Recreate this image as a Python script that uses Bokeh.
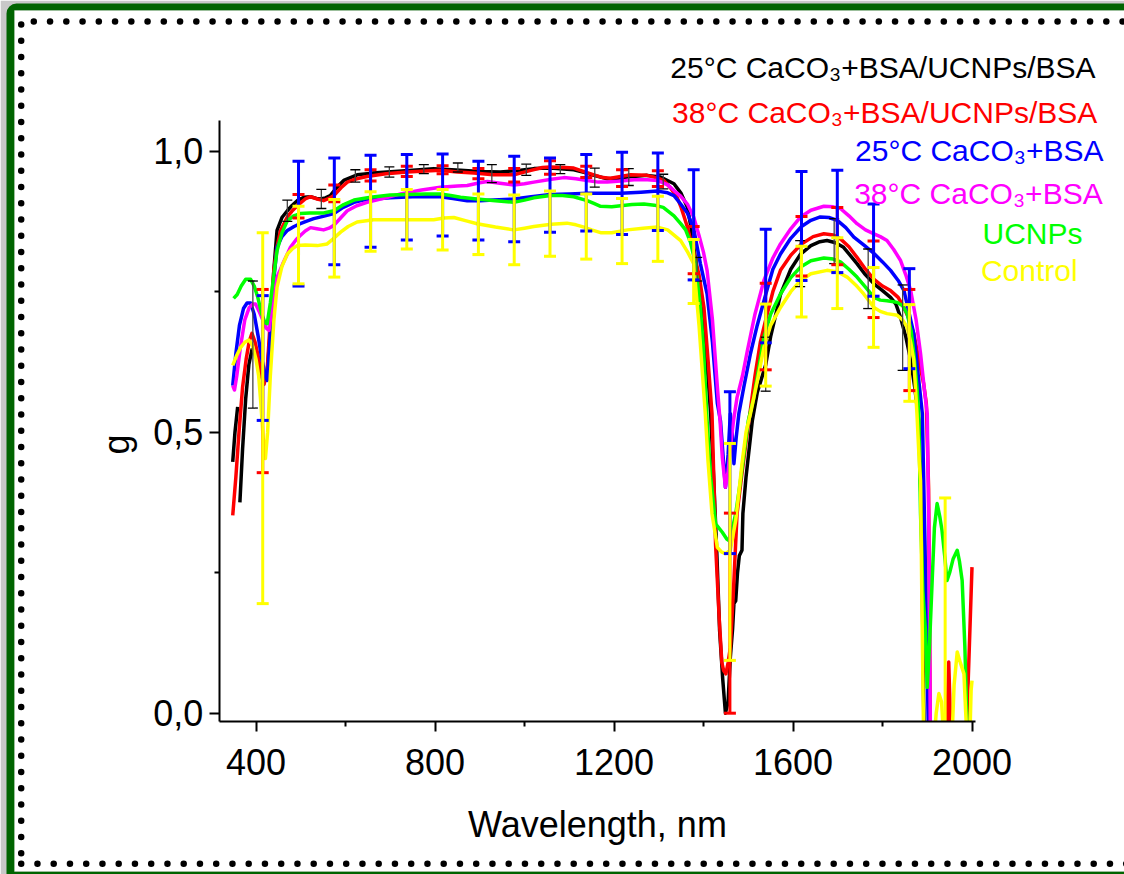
import numpy as np
from bokeh.plotting import figure
from bokeh.models import Range1d, FixedTicker, CustomJSTickFormatter, Label, BoxAnnotation
from bokeh.embed import file_html
from bokeh.resources import INLINE

nan = float("nan")

# ---------------- data (wavelength nm, g) ----------------
# points below the x axis (g < -0.015) are hidden, as in the original plot
black_pts = [(348, 0.447), (353, 0.50), (359, 0.545), (nan, nan), (364, 0.375), (370, 0.47), (377, 0.56),
             (384, 0.62), (391, 0.647), (398, 0.64), (405, 0.625), (412, 0.61), (419, 0.60), (425, 0.607),
             (432, 0.68), (440, 0.79), (447, 0.859), (458, 0.882), (470, 0.894), (480, 0.903), (492, 0.912),
             (507, 0.918), (522, 0.919), (535, 0.916), (544, 0.915), (555, 0.917), (566, 0.921), (580, 0.935),
             (596, 0.948), (626, 0.958), (660, 0.961), (693, 0.963), (750, 0.966), (797, 0.969), (857, 0.966),
             (900, 0.964), (946, 0.963), (991, 0.966), (1021, 0.969), (1058, 0.970), (1110, 0.967),
             (1135, 0.962), (1155, 0.957), (1185, 0.951), (1210, 0.952), (1230, 0.954), (1274, 0.957),
             (1304, 0.954), (1334, 0.942), (1350, 0.925), (1364, 0.900), (1372, 0.865), (1380, 0.82),
             (1390, 0.76), (1401, 0.687), (1410, 0.60), (1416, 0.533), (1423, 0.414), (1430, 0.28),
             (1436, 0.147), (1443, 0.06), (1449, 0.0), (1455, 0.02), (1460, 0.10), (1465, 0.15),
             (1468, 0.195), (1472, 0.20), (1476, 0.25), (1480, 0.28), (1486, 0.29), (1488, 0.355),
             (1495, 0.42), (1509, 0.52), (1520, 0.57), (1539, 0.62), (1550, 0.67), (1572, 0.745),
             (1595, 0.79), (1617, 0.817), (1640, 0.832), (1660, 0.839), (1676, 0.841), (1695, 0.837),
             (1713, 0.829), (1743, 0.800), (1760, 0.782), (1781, 0.764), (1800, 0.752), (1818, 0.740),
             (1830, 0.728), (1840, 0.705), (1852, 0.67), (1863, 0.628), (1872, 0.58), (1881, 0.521),
             (1887, 0.35), (1893, -0.05)]

red_pts = [(348, 0.352), (355, 0.42), (362, 0.50), (370, 0.58), (378, 0.63), (385, 0.662), (391, 0.676),
           (398, 0.66), (405, 0.635), (412, 0.60), (418, 0.585), (425, 0.61), (432, 0.70), (440, 0.79),
           (447, 0.83), (455, 0.859), (470, 0.883), (480, 0.893), (495, 0.905), (510, 0.915), (522, 0.919),
           (537, 0.915), (551, 0.912), (563, 0.916), (574, 0.921), (590, 0.935), (604, 0.945), (625, 0.951),
           (648, 0.955), (690, 0.960), (738, 0.963), (812, 0.966), (850, 0.963), (887, 0.961), (930, 0.958),
           (976, 0.958), (1010, 0.965), (1040, 0.971), (1058, 0.972), (1090, 0.971), (1110, 0.970),
           (1135, 0.963), (1155, 0.958), (1175, 0.953), (1192, 0.952), (1215, 0.955), (1237, 0.958),
           (1274, 0.957), (1298, 0.952), (1311, 0.948), (1326, 0.935), (1341, 0.918), (1350, 0.90),
           (1364, 0.865), (1378, 0.82), (1390, 0.78), (1401, 0.722), (1410, 0.63), (1419, 0.533),
           (1423, 0.42), (1427, 0.30), (1435, 0.17), (1441, 0.09), (1445, 0.076), (1450, 0.07),
           (1455, 0.09), (1460, 0.117), (1467, 0.22), (1475, 0.355), (1485, 0.42), (1498, 0.50),
           (1515, 0.60), (1527, 0.66), (1539, 0.70), (1555, 0.75), (1572, 0.788), (1595, 0.815),
           (1619, 0.835), (1645, 0.848), (1669, 0.853), (1690, 0.851), (1706, 0.844), (1725, 0.83),
           (1743, 0.811), (1762, 0.79), (1781, 0.772), (1800, 0.76), (1818, 0.752), (1835, 0.74),
           (1848, 0.722), (1860, 0.70), (1870, 0.675), (1881, 0.63), (1892, 0.586), (1898, 0.55),
           (1903, 0.40), (1907, -0.05), (1943, -0.05), (1948, 0.091), (1953, -0.05), (1987, -0.05),
           (2000, 0.26)]

blue_pts = [(348, 0.583), (355, 0.64), (363, 0.69), (372, 0.72), (380, 0.73), (388, 0.730), (396, 0.71),
            (405, 0.67), (413, 0.63), (421, 0.60), (425, 0.592), (430, 0.65), (437, 0.75), (447, 0.829),
            (458, 0.848), (470, 0.859), (485, 0.866), (499, 0.871), (515, 0.876), (529, 0.880), (550, 0.884),
            (574, 0.889), (595, 0.900), (619, 0.909), (640, 0.913), (663, 0.915), (700, 0.917), (750, 0.919),
            (812, 0.919), (840, 0.916), (872, 0.912), (900, 0.912), (931, 0.913), (976, 0.915),
            (1015, 0.919), (1058, 0.923), (1100, 0.924), (1140, 0.925), (1180, 0.925), (1215, 0.925),
            (1260, 0.927), (1297, 0.929), (1320, 0.926), (1334, 0.921), (1349, 0.906), (1364, 0.890),
            (1378, 0.862), (1393, 0.80), (1408, 0.746), (1420, 0.66), (1431, 0.551), (1438, 0.52),
            (1445, 0.444), (1449, 0.402), (1455, 0.46), (1460, 0.533), (1464, 0.50), (1468, 0.444),
            (1473, 0.49), (1479, 0.533), (1490, 0.58), (1505, 0.640), (1520, 0.69), (1539, 0.745),
            (1555, 0.79), (1572, 0.817), (1595, 0.845), (1619, 0.866), (1640, 0.877), (1661, 0.883),
            (1680, 0.882), (1699, 0.877), (1718, 0.864), (1736, 0.847), (1760, 0.832), (1781, 0.818),
            (1800, 0.803), (1818, 0.788), (1835, 0.77), (1848, 0.752), (1860, 0.71), (1870, 0.675),
            (1880, 0.60), (1889, 0.533), (1895, 0.30), (1898, 0.15), (1903, -0.05)]

magenta_pts = [(348, 0.583), (352, 0.575), (357, 0.60), (365, 0.65), (375, 0.70), (385, 0.722), (393, 0.728),
               (399, 0.728), (407, 0.715), (415, 0.70), (423, 0.685), (429, 0.681), (437, 0.73), (447, 0.776),
               (460, 0.80), (477, 0.829), (490, 0.843), (499, 0.850), (510, 0.858), (522, 0.864), (536, 0.862),
               (551, 0.860), (563, 0.863), (574, 0.868), (590, 0.882), (604, 0.894), (625, 0.903), (648, 0.909),
               (690, 0.917), (723, 0.924), (770, 0.931), (812, 0.936), (850, 0.938), (872, 0.939), (900, 0.944),
               (917, 0.946), (945, 0.943), (976, 0.940), (1000, 0.942), (1021, 0.945), (1060, 0.950),
               (1088, 0.953), (1115, 0.951), (1140, 0.948), (1165, 0.945), (1185, 0.945), (1215, 0.947),
               (1245, 0.949), (1275, 0.949), (1297, 0.948), (1320, 0.940), (1334, 0.930), (1349, 0.920),
               (1364, 0.906), (1378, 0.883), (1390, 0.85), (1400, 0.82), (1408, 0.788), (1420, 0.70),
               (1431, 0.580), (1437, 0.52), (1442, 0.455), (1449, 0.402), (1455, 0.43), (1460, 0.473),
               (1467, 0.52), (1475, 0.562), (1487, 0.60), (1498, 0.645), (1515, 0.71), (1535, 0.770),
               (1555, 0.81), (1572, 0.835), (1595, 0.862), (1617, 0.883), (1640, 0.895), (1669, 0.902),
               (1690, 0.901), (1706, 0.898), (1725, 0.885), (1743, 0.871), (1762, 0.86), (1781, 0.853),
               (1795, 0.848), (1810, 0.841), (1825, 0.825), (1840, 0.806), (1852, 0.78), (1863, 0.752),
               (1875, 0.70), (1885, 0.640), (1893, 0.58), (1900, 0.533), (1904, 0.30), (1907, -0.05)]

green_pts = [(350, 0.738), (358, 0.745), (367, 0.76), (377, 0.772), (388, 0.772), (396, 0.76), (404, 0.74),
             (413, 0.71), (420, 0.695), (425, 0.693), (432, 0.73), (440, 0.78), (447, 0.823), (458, 0.855),
             (470, 0.876), (484, 0.885), (499, 0.889), (520, 0.890), (551, 0.890), (574, 0.894), (596, 0.905),
             (619, 0.913), (656, 0.918), (700, 0.922), (738, 0.923), (780, 0.924), (812, 0.924), (835, 0.921),
             (857, 0.918), (894, 0.915), (935, 0.912), (976, 0.909), (1000, 0.913), (1021, 0.917),
             (1058, 0.921), (1085, 0.921), (1110, 0.919), (1140, 0.912), (1155, 0.907), (1170, 0.902),
             (1195, 0.901), (1215, 0.903), (1240, 0.905), (1267, 0.906), (1290, 0.904), (1310, 0.900),
             (1334, 0.885), (1349, 0.871), (1360, 0.860), (1371, 0.838), (1382, 0.80), (1393, 0.722),
             (1400, 0.65), (1408, 0.521), (1416, 0.42), (1427, 0.337), (1442, 0.322), (1452, 0.31),
             (1457, 0.307), (1465, 0.33), (1472, 0.355), (1482, 0.41), (1490, 0.46), (1500, 0.52),
             (1512, 0.56), (1535, 0.669), (1550, 0.71), (1572, 0.746), (1595, 0.775), (1617, 0.794),
             (1640, 0.805), (1669, 0.810), (1690, 0.808), (1706, 0.803), (1725, 0.79), (1743, 0.776),
             (1762, 0.758), (1781, 0.740), (1795, 0.735), (1810, 0.734), (1833, 0.731), (1845, 0.725),
             (1855, 0.711), (1864, 0.68), (1870, 0.640), (1877, 0.58), (1881, 0.533), (1885, 0.355),
             (1890, 0.22), (1896, 0.147), (1900, 0.046), (1905, 0.12), (1911, 0.236), (1916, 0.33),
             (1922, 0.373), (1928, 0.35), (1933, 0.325), (1939, 0.28), (1944, 0.236), (1950, 0.25),
             (1958, 0.275), (1967, 0.290), (1972, 0.27), (1978, 0.236), (1984, 0.12), (1990, -0.05)]

yellow_pts = [(348, 0.619), (356, 0.635), (365, 0.65), (375, 0.66), (384, 0.664), (392, 0.655), (400, 0.63),
              (406, 0.60), (411, 0.55), (416, 0.49), (421, 0.453), (426, 0.50), (432, 0.60), (440, 0.70),
              (447, 0.758), (458, 0.795), (470, 0.817), (482, 0.827), (492, 0.832), (510, 0.833),
              (537, 0.832), (559, 0.835), (574, 0.845), (589, 0.856), (606, 0.866), (626, 0.874),
              (663, 0.878), (720, 0.878), (770, 0.878), (797, 0.878), (820, 0.881), (842, 0.882),
              (870, 0.876), (894, 0.871), (935, 0.865), (976, 0.860), (1000, 0.863), (1021, 0.866),
              (1060, 0.870), (1095, 0.872), (1115, 0.869), (1133, 0.865), (1150, 0.860), (1170, 0.855),
              (1195, 0.855), (1230, 0.860), (1265, 0.863), (1297, 0.865), (1320, 0.860), (1349, 0.841),
              (1365, 0.82), (1378, 0.80), (1390, 0.69), (1398, 0.60), (1404, 0.533), (1410, 0.45),
              (1419, 0.355), (1431, 0.295), (1440, 0.287), (1449, 0.284), (1460, 0.290), (1472, 0.343),
              (1480, 0.40), (1486, 0.444), (1495, 0.50), (1505, 0.533), (1520, 0.59), (1535, 0.651),
              (1550, 0.69), (1572, 0.722), (1595, 0.75), (1617, 0.770), (1640, 0.782), (1676, 0.788),
              (1700, 0.785), (1721, 0.776), (1740, 0.762), (1758, 0.746), (1781, 0.722), (1795, 0.715),
              (1810, 0.711), (1833, 0.708), (1845, 0.70), (1855, 0.687), (1863, 0.66), (1870, 0.628),
              (1877, 0.533), (1882, 0.45), (1885, 0.414), (1888, 0.2), (1892, -0.05), (1915, -0.05),
              (1920, 0.0), (1926, 0.035), (1932, 0.02), (1937, -0.05), (1955, -0.05), (1960, 0.05),
              (1967, 0.109), (1974, 0.09), (1982, 0.07), (1986, 0.0), (1989, -0.05), (1995, -0.05),
              (1998, 0.04), (2000, 0.058)]

# error bars: centre and half-width
err_wl = [415, 495, 575, 656, 737, 817, 897, 977, 1057, 1138, 1218, 1298, 1378, 1459, 1539, 1619, 1699, 1780, 1860]
red_err_c = [0.591, 0.902, 0.925, 0.957, 0.964, 0.967, 0.960, 0.957, 0.971, 0.963, 0.952, 0.951, 0.824, 0.178,
             0.688, 0.831, 0.849, 0.772, 0.664]
red_err_h = [0.163, 0.021, 0.015, 0.010, 0.009, 0.007, 0.009, 0.012, 0.012, 0.010, 0.015, 0.014, 0.042, 0.178,
             0.077, 0.053, 0.051, 0.068, 0.090]
blue_err_c = [0.632, 0.871, 0.893, 0.911, 0.918, 0.922, 0.912, 0.915, 0.922, 0.926, 0.925, 0.928, 0.869, 0.428,
              0.760, 0.867, 0.875, 0.824, 0.702]
blue_err_h = [0.111, 0.111, 0.095, 0.082, 0.076, 0.073, 0.070, 0.076, 0.066, 0.068, 0.073, 0.069, 0.098, 0.144,
              0.101, 0.097, 0.091, 0.082, 0.089]
yel_err_wl = err_wl + [1940]
yel_err_c = [0.525, 0.833, 0.845, 0.875, 0.879, 0.878, 0.870, 0.860, 0.871, 0.866, 0.858, 0.862, 0.786, 0.287,
             0.655, 0.768, 0.783, 0.722, 0.641, 0.05]
yel_err_h = [0.330, 0.069, 0.069, 0.053, 0.053, 0.054, 0.054, 0.062, 0.058, 0.058, 0.058, 0.058, 0.057, 0.193,
             0.073, 0.063, 0.063, 0.071, 0.086, 0.333]
blk_err_wl = [393, 470, 546, 622, 698, 775, 851, 927, 1004, 1080, 1157, 1233, 1310, 1386, 1539, 1616, 1692, 1768, 1845]
blk_err_c = [0.656, 0.894, 0.915, 0.956, 0.963, 0.968, 0.971, 0.960, 0.967, 0.968, 0.953, 0.954, 0.946, 0.790,
             0.621, 0.800, 0.840, 0.773, 0.686]
blk_err_h = [0.113, 0.019, 0.017, 0.011, 0.009, 0.008, 0.008, 0.016, 0.010, 0.008, 0.017, 0.015, 0.013, 0.021,
             0.048, 0.041, 0.040, 0.053, 0.076]

legend_texts = ["25°C CaCO₃+BSA/UCNPs/BSA", "38°C CaCO₃+BSA/UCNPs/BSA", "25°C CaCO₃+BSA",
                "38°C CaCO₃+BSA", "UCNPs", "Control"]
colors = ["#000000", "#ff0000", "#0000ff", "#ff00ff", "#00ff00", "#ffff00"]

x_major = [400, 800, 1200, 1600, 2000]
x_minor = [600, 1000, 1400, 1800]
y_major = [0.0, 0.5, 1.0]
y_minor = [0.25, 0.75]

# ---------------- figure ----------------
# The frame fills the whole canvas; the axes are pinned (fixed_location) so that the
# coloured legend and the slide border can be drawn around the plot.
FONT = "Liberation Sans"
W, H = 1124, 874
X0, X1 = -170.95, 2340.78
Y0, Y1 = -0.28701, 1.26815
X_AX = (318, 2008)        # extent of the x axis (nm)
Y_AX = (-0.015, 1.055)    # extent of the y axis
p = figure(width=W, height=H, x_range=Range1d(X0, X1), y_range=Range1d(Y0, Y1),
           output_backend="svg", toolbar_location=None,
           min_border_left=0, min_border_right=0, min_border_top=0, min_border_bottom=0)
p.grid.visible = False
p.outline_line_color = None
p.background_fill_color = "white"
p.border_fill_color = "white"


def cx(px):  # canvas pixel -> data x
    return X0 + np.asarray(px, float) * (X1 - X0) / W


def cy(py):  # canvas pixel -> data y
    return Y1 - np.asarray(py, float) * (Y1 - Y0) / H


# slide decoration: grey page edge, green rounded frame, dotted black border
cu = dict(left_units="canvas", right_units="canvas", top_units="canvas", bottom_units="canvas")
p.add_layout(BoxAnnotation(left=0, right=W, top=0, bottom=H, fill_color="#c8c8c8", fill_alpha=1,
                           line_color=None, level="underlay", **cu))
p.add_layout(BoxAnnotation(left=6, right=W + 30, top=3, bottom=H + 20, fill_color="#006400", fill_alpha=1,
                           line_color=None, border_radius=10, level="underlay", **cu))
p.add_layout(BoxAnnotation(left=14, right=W + 30, top=10, bottom=871, fill_color="white", fill_alpha=1,
                           line_color="#dddddd", line_width=1, level="underlay", **cu))
step = 16.25
top_x = np.arange(33.3, W + 5, step)
left_y = np.arange(24.0, 856, step)
bot_x = np.arange(20.7, W + 5, step)
dot_x = np.concatenate([top_x, np.full(left_y.size, 20.7), bot_x])
dot_y = np.concatenate([np.full(top_x.size, 21.0), left_y, np.full(bot_x.size, 863.3)])
p.scatter(cx(dot_x), cy(dot_y), size=6.5, fill_color="black", line_color=None)

# curves
for pts, col in zip([black_pts, red_pts, blue_pts, magenta_pts, green_pts, yellow_pts], colors):
    wl, g = zip(*pts)
    p.line(list(wl), list(g), line_color=col, line_width=3.5, line_join="round")


def errbars(wl, c, h, color, lw, cap, stem_color=None):
    wl = np.asarray(wl, float)
    c = np.asarray(c, float)
    h = np.asarray(h, float)
    lo = np.clip(c - h, Y_AX[0] - 0.05, Y_AX[1])
    hi = np.clip(c + h, Y_AX[0] - 0.05, Y_AX[1])
    p.segment(wl, lo, wl, hi, line_color=stem_color or color, line_width=lw)
    ex = np.concatenate([wl, wl])
    ey = np.concatenate([c - h, c + h])
    keep = (ey >= Y_AX[0]) & (ey <= Y_AX[1])
    p.scatter(ex[keep], ey[keep], marker="dash", size=cap, line_color=color, line_width=lw)


errbars(blk_err_wl, blk_err_c, blk_err_h, "#000000", 1.3, 10, stem_color="#444444")
errbars(err_wl, red_err_c, red_err_h, colors[1], 3, 12)
errbars(err_wl, blue_err_c, blue_err_h, colors[2], 3, 12)
errbars(yel_err_wl, yel_err_c, yel_err_h, colors[5], 3, 12)

# white mask below the x axis: hides the parts of the curves that fall under it (plot clipping)
p.quad(left=X_AX[0] - 20, right=X_AX[1] + 20, bottom=Y_AX[0] - 0.1, top=Y_AX[0],
       fill_color="white", line_color=None)

# axes
xa = p.xaxis[0]
ya = p.yaxis[0]
xa.fixed_location = Y_AX[0]
ya.fixed_location = X_AX[0]
xa.bounds = X_AX
ya.bounds = Y_AX
xa.ticker = FixedTicker(ticks=x_major, minor_ticks=x_minor)
ya.ticker = FixedTicker(ticks=y_major, minor_ticks=y_minor)
ya.formatter = CustomJSTickFormatter(code="return tick.toFixed(1).replace('.', ',');")
xa.axis_label = "Wavelength, nm"
for ax in (xa, ya):
    ax.axis_line_width = 2
    ax.major_tick_line_width = 2
    ax.minor_tick_line_width = 2
    ax.major_tick_out = 10
    ax.major_tick_in = 0
    ax.minor_tick_out = 5
    ax.minor_tick_in = 0
    ax.major_label_text_font = FONT
    ax.major_label_text_font_size = "36px"
    ax.major_label_text_color = "black"
    ax.axis_label_text_font = FONT
    ax.axis_label_text_font_size = "36px"
    ax.axis_label_text_font_style = "normal"
    ax.axis_label_text_color = "black"
xa.major_label_standoff = 17
ya.major_label_standoff = 6
xa.axis_label_standoff = 26

# y axis title
p.add_layout(Label(x=X_AX[0], y=0.478, x_offset=-103, text="g", angle=np.pi / 2, text_font=FONT,
                   text_font_size="36px", text_color="black", text_align="center", text_baseline="middle"))

# legend (text only, coloured)
leg_x = [2276, 2280, 2294, 2292, 2247, 2236]
leg_y = [1.149, 1.069, 1.001, 0.925, 0.854, 0.788]
for t, col, lx, ly in zip(legend_texts, colors, leg_x, leg_y):
    p.add_layout(Label(x=lx, y=ly, text=t, text_color=col, text_font=FONT, text_font_size="30px",
                       text_align="right", text_baseline="alphabetic"))

open("out.html", "w").write(file_html(p, INLINE))
